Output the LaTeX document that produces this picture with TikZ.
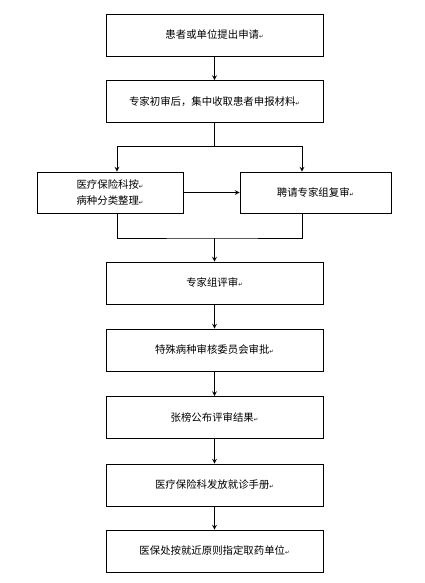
\documentclass[tikz,border=0pt]{standalone}
\usepackage{fontspec}
\newfontfamily\cjk{Noto Sans CJK SC}
\newfontfamily\symfont{DejaVu Sans}
\newcommand{\retmark}{{\fontsize{4}{4}\selectfont\symfont ↵}}
\begin{document}
\begin{tikzpicture}[
    x=0.75pt,
    y=-0.75pt,
    >=stealth,
    line width=0.6pt,
    stepbox/.style={draw,line width=0.6pt,minimum width=162.75pt,
      minimum height=31.5pt,font=\cjk\fontsize{7.8}{12}\selectfont},
    sidebox/.style={stepbox,minimum height=30.75pt},
    flow/.style={->}
  ]
    \useasboundingbox (0,0) rectangle (425,583);

    \node[stepbox] (apply) at (214.5,35) {患者或单位提出申请\retmark};
    \node[stepbox] (collect) at (214.5,101.5)
      {专家初审后，集中收取患者申报材料\retmark};
    \node[sidebox,minimum width=109.5pt,align=center] (sort) at (110,192.5)
      {医疗保险科按\retmark\\病种分类整理\retmark};
    \node[sidebox,minimum width=113.25pt] (review) at (315.5,192.5)
      {聘请专家组复审\retmark};
    \node[stepbox] (panel) at (214.5,283) {专家组评审\retmark};
    \node[stepbox] (approve) at (214.5,350) {特殊病种审核委员会审批\retmark};
    \node[stepbox] (publish) at (214.5,417.5) {张榜公布评审结果\retmark};
    \node[stepbox] (handbook) at (214.5,485) {医疗保险科发放就诊手册\retmark};
    \node[stepbox] (pharmacy) at (214.5,551)
      {医保处按就近原则指定取药单位\retmark};

    \coordinate (split) at (214.5,146);
    \coordinate (merge) at (214.5,238);

    \draw[flow] (apply) -- (collect);
    \draw (collect) -- (split);
    \draw[flow] (split) -| ([xshift=5.25pt]sort.north);
    \draw[flow] (split) -| ([xshift=-10.1pt]review.north);
    \draw[flow] (sort) -- (review);
    \draw ([xshift=5.25pt]sort.south) |- (merge)
      -| ([xshift=-10.1pt]review.south);
    \draw[flow] (merge) -- (panel);
    \draw[flow] (panel) -- (approve);
    \draw[flow] (approve) -- (publish);
    \draw[flow] (publish) -- (handbook);
    \draw[flow] (handbook) -- (pharmacy);
  \end{tikzpicture}
\end{document}
